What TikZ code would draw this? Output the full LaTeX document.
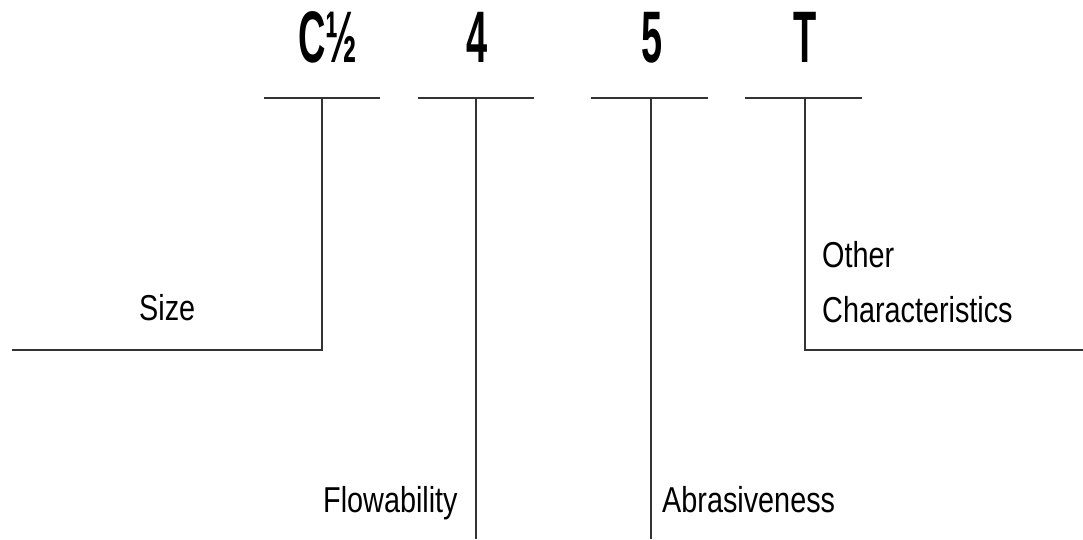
\documentclass[tikz,border=0pt]{standalone}
\usepackage{fontspec}
\setmainfont{Liberation Sans}
\newfontfamily\codefont[FakeStretch=0.52]{Liberation Sans Bold}
\newfontfamily\labelfont[FakeStretch=0.8]{Liberation Sans}
\begin{document}
\begin{tikzpicture}[x=1pt,y=-1pt,
  codetext/.style={inner sep=0pt,anchor=base,font=\codefont\fontsize{73}{73}\selectfont},
  labeltext/.style={inner sep=0pt,anchor=base west,align=left,font=\labelfont\fontsize{36}{55}\selectfont},
  rule/.style={line width=1.8pt,draw=black!80}]
\useasboundingbox (0,0) rectangle (1083,539);
% code characters
\node[codetext] (c1) at (328,62) {C½};
\node[codetext] (c2) at (477,62) {4};
\node[codetext] (c3) at (652,62) {5};
\node[codetext] (c4) at (805,62) {T};
% bars
\coordinate (b1l) at (264,98); \coordinate (b1r) at (380,98); \coordinate (b1m) at (322,98);
\coordinate (b2l) at (418,98); \coordinate (b2r) at (534,98); \coordinate (b2m) at (476,98);
\coordinate (b3l) at (591,98); \coordinate (b3r) at (708,98); \coordinate (b3m) at (651,98);
\coordinate (b4l) at (745,98); \coordinate (b4r) at (862,98); \coordinate (b4m) at (805,98);
\draw[rule] (b1l) -- (b1r);
\draw[rule] (b2l) -- (b2r);
\draw[rule] (b3l) -- (b3r);
\draw[rule] (b4l) -- (b4r);
% leaders
\coordinate (sizeend) at (12,350);
\coordinate (flowend) at (476,539);
\coordinate (abrend) at (651,539);
\coordinate (otherend) at (1083,350);
\draw[rule] (b1m) |- (sizeend);
\draw[rule] (b2m) -- (flowend);
\draw[rule] (b3m) -- (abrend);
\draw[rule] (b4m) |- (otherend);
% labels
\node[labeltext] (size) at (139,320) {Size};
\node[labeltext] (flow) at (323,512) {Flowability};
\node[labeltext] (abr) at (662,512) {Abrasiveness};
\node[labeltext] (other) at (822,322) {Other\\Characteristics};
\end{tikzpicture}
\end{document}
